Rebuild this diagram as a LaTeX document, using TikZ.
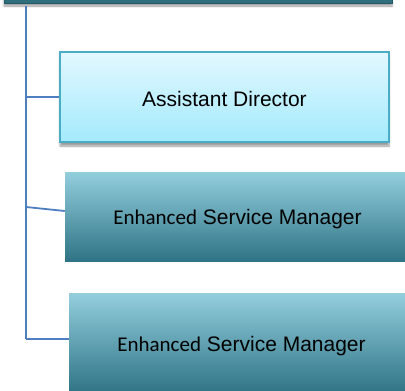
\documentclass[tikz,border=0pt]{standalone}
\usepackage{fontspec}
\setmainfont{Liberation Sans}
\newfontfamily\calfont{Carlito}
\usetikzlibrary{shadows.blur}
\definecolor{topteal}{HTML}{2F6E7D}
\definecolor{topedge}{HTML}{24596A}
\definecolor{adtop}{HTML}{E2F8FE}
\definecolor{adbot}{HTML}{A3EAFD}
\definecolor{adedge}{HTML}{4BACC6}
\definecolor{esmtop}{HTML}{93CEDD}
\definecolor{esmmid}{HTML}{4AA8C2}
\definecolor{esmbot}{HTML}{2F7486}
\definecolor{linkblue}{HTML}{4F7FC0}
\tikzset{
  topbox/.style={rectangle, draw=topedge, line width=1pt, fill=topteal,
    minimum width=388pt, minimum height=42pt, inner sep=0pt,
    blur shadow={shadow xshift=0pt, shadow yshift=-3pt, shadow blur steps=6, shadow opacity=40}},
  adbox/.style={rectangle, draw=adedge, line width=1.5pt, top color=adtop, bottom color=adbot,
    minimum width=329pt, minimum height=90pt, inner sep=0pt,
    font=\fontsize{21}{25}\selectfont, text height=18pt, text depth=0pt,
    blur shadow={shadow xshift=0pt, shadow yshift=-4pt, shadow blur steps=6, shadow opacity=40}},
  esmbox/.style={rectangle, top color=esmtop, middle color=esmmid, bottom color=esmbot,
    minimum width=345pt, inner sep=0pt, font=\fontsize{21}{25}\selectfont, text depth=0pt},
  link/.style={draw=linkblue, line width=1.8pt}
}
\begin{document}
\begin{tikzpicture}[x=1pt, y=-1pt]
\useasboundingbox (0,0) rectangle (405,391);
\clip (0,0) rectangle (405,391);
\node[topbox] (top) at (198,-18) {};
\node[adbox] (ad) at (224.5,97) {Assistant Director};
\node[esmbox, minimum height=89pt, text height=15pt] (esm1) at (237.5,216.5) {{\calfont Enhanced} Service Manager};
\node[esmbox, minimum height=100pt, text height=16pt] (esm2) at (241.5,343) {{\calfont Enhanced} Service Manager};
\coordinate (j0) at (26,6);
\coordinate (j1) at (26,97);
\coordinate (j2) at (26,207);
\coordinate (j3) at (26,339);
\draw[link] (j0) -- (j3);
\draw[link] (j1) -- (ad.west);
\draw[link] (j2) -- ([yshift=5.5pt]esm1.west);
\draw[link] (j3) -- (j3 -| esm2.west);
\end{tikzpicture}
\end{document}
